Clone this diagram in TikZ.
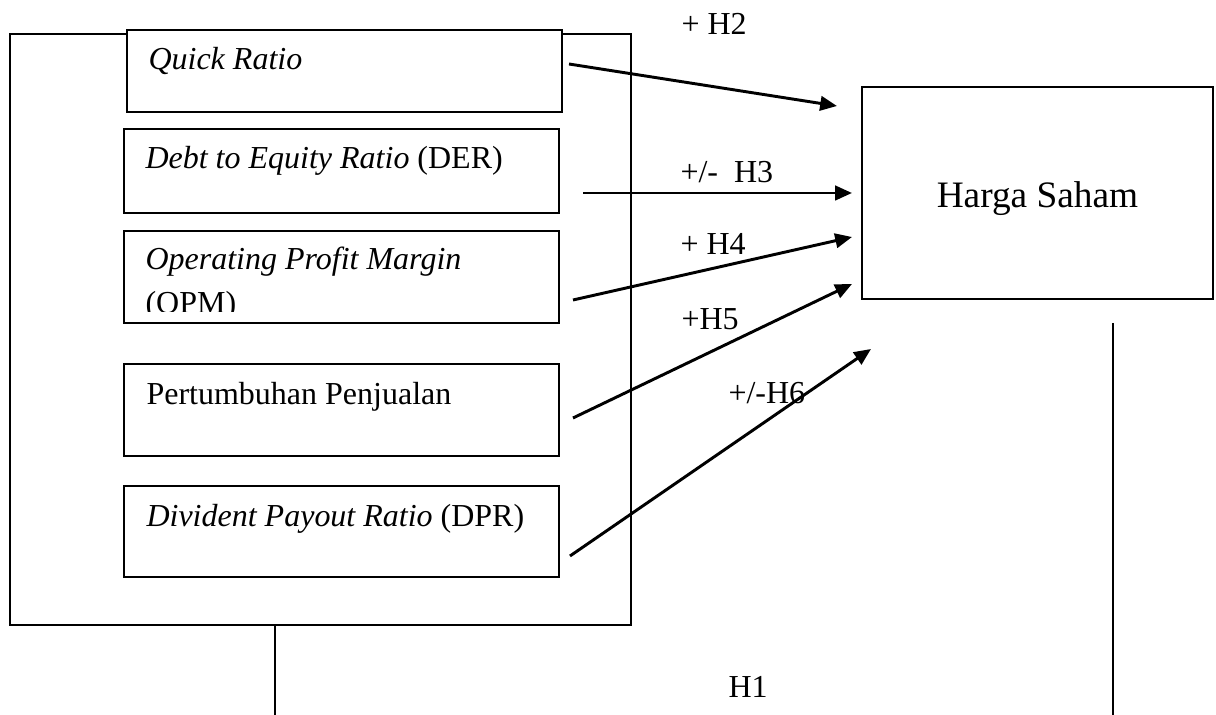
\documentclass[tikz,border=0pt]{standalone}
\usepackage{fontspec}
\setmainfont{Liberation Serif}
\usetikzlibrary{arrows.meta}
\begin{document}
\begin{tikzpicture}[x=0.375pt,y=-0.375pt,
  framebox/.style={draw, line width=0.75pt, fill=white, inner sep=0pt},
  boxtext/.style={anchor=base west, inner sep=0pt, font=\fontsize{12}{14.4}\selectfont},
  lbl/.style={anchor=base west, inner sep=0pt, font=\fontsize{12}{14.4}\selectfont},
  conn/.style={line width=1.1pt, -{Triangle[length=6.3pt,width=5.4pt]}},
  plainline/.style={line width=0.75pt}]
\useasboundingbox (0,0) rectangle (1216,715);

% outer group box
\node[framebox, minimum width=232.9pt, minimum height=221.6pt] (outer) at (320.5,329.5) {};

% inner boxes
\node[framebox, minimum width=163.1pt, minimum height=30.75pt] (qr)  at (344.5,71) {};
\node[framebox, minimum width=163.1pt, minimum height=31.5pt]  (der) at (341.5,171) {};
\node[framebox, minimum width=163.1pt, minimum height=34.5pt]  (opm) at (341.5,277) {};
\node[framebox, minimum width=163.1pt, minimum height=34.5pt]  (pp)  at (341.5,410) {};
\node[framebox, minimum width=163.1pt, minimum height=34.1pt]  (dpr) at (341.5,531.5) {};

% texts of the inner boxes
\node[boxtext] (tqr)  at (148,70)  {\textit{Quick Ratio}};
\node[boxtext] (tder) at (145,169) {\textit{Debt to Equity Ratio} (DER)};
\node[boxtext] (topm) at (145,270) {\textit{Operating Profit Margin}};
\begin{scope}
  \clip (120,280) rectangle (600,312);
  \node[boxtext] (topm2) at (145,314) {(OPM)};
\end{scope}
\node[boxtext] (tpp)  at (146,405) {Pertumbuhan Penjualan};
\node[boxtext] (tdpr) at (146,527) {\textit{Divident Payout Ratio} (DPR)};

% target box
\node[framebox, minimum width=131.6pt, minimum height=79.5pt] (hs) at (1037.5,193) {};
\node[anchor=base, inner sep=0pt, font=\fontsize{14}{16.8}\selectfont] (ths) at (1037.5,208) {Harga Saham};

% arrow end points
\coordinate (s2) at (569,64);  \coordinate (e2) at (837,106);
\coordinate (s3) at (583,193); \coordinate (e3) at (852,193);
\coordinate (s4) at (573,300); \coordinate (e4) at (852,237);
\coordinate (s5) at (573,418); \coordinate (e5) at (852,284);
\coordinate (s6) at (570,556); \coordinate (e6) at (871,349);

\draw[conn] (s2) -- (e2);
\draw[conn] (s3) -- (e3);
\draw[conn] (s4) -- (e4);
\draw[conn] (s5) -- (e5);
\draw[conn] (s6) -- (e6);

% labels
\node[lbl] (h2) at (681,35)  {+ H2};
\node[lbl] (h3) at (680,183) {+/-\hspace{0.5em}H3};
\node[lbl] (h4) at (680,255) {+ H4};
\node[lbl] (h5) at (681,330) {+H5};
\node[lbl] (h6) at (728,404) {+/-H6};
\node[lbl] (h1) at (728,698) {H1};

% H1 lines (cut off at page bottom)
\coordinate (h1l) at (275,715);
\coordinate (h1rtop) at (1113,323);
\coordinate (h1r) at (1113,715);
\draw[plainline] (outer.south -| h1l) -- (h1l);
\draw[plainline] (h1rtop) -- (h1r);
\end{tikzpicture}
\end{document}
